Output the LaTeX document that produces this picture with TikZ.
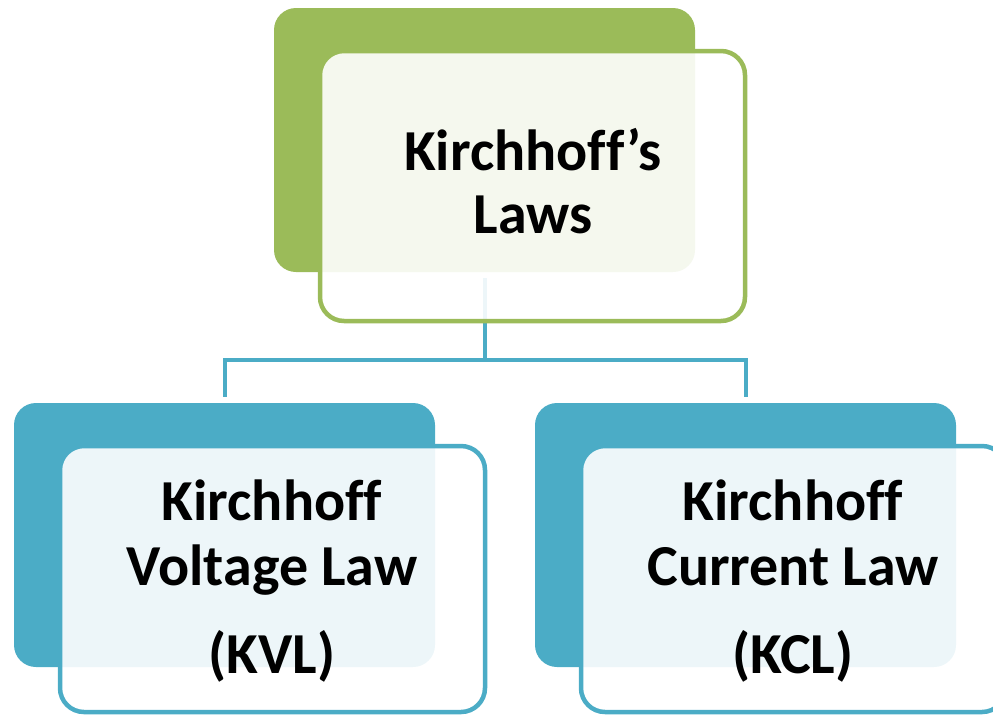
\documentclass[tikz,border=0pt]{standalone}
\usepackage{fontspec}
\setmainfont{Carlito}[Ligatures=NoCommon]
\definecolor{kgreen}{HTML}{9BBB59}
\definecolor{kblue}{HTML}{4BACC6}
\tikzset{
  backbox/.style={rectangle, rounded corners=22pt, inner sep=0pt, draw=none,
    minimum width=421pt, minimum height=264pt},
  frontbox/.style={rectangle, rounded corners=24pt, inner sep=0pt, line width=4.5pt,
    fill=white, fill opacity=0.9, minimum width=425pt, minimum height=266pt},
  conn/.style={draw=kblue, line width=4pt},
  lbl/.style={anchor=base, inner sep=0pt, font=\fontsize{58}{63}\selectfont\bfseries}
}
\begin{document}
\begin{tikzpicture}[x=1pt,y=-1pt]
\useasboundingbox (0,0) rectangle (993,716);
% top
\node[backbox, fill=kgreen] (tb) at (484.5,140) {};
\coordinate (j) at (tb.south |- 0,360);
\node[backbox, fill=kblue] (lb) at (224.5,535) {};
\node[backbox, fill=kblue] (rb) at (745.5,535) {};
\draw[conn, shorten <=6pt] (tb.south) -- (j);
\draw[conn, shorten >=6pt] (j) -| (lb.north);
\draw[conn, shorten >=6pt] (j) -| (rb.north);
\node[frontbox, draw=kgreen, minimum height=270pt] (tf) at (532.5,186) {};
\node[frontbox, draw=kblue] (lf) at (272.5,579) {};
\node[frontbox, draw=kblue] (rf) at (793.5,579) {};
% texts
\node[lbl] (t1) at (533,170) {Kirchhoff’s};
\node[lbl] (t2) at (533,233) {Laws};
\node[lbl] (l1) at (272,520) {Kirchhoff};
\node[lbl] (l2) at (272,585) {Voltage Law};
\node[lbl] (l3) at (272,673) {(KVL)};
\node[lbl] (r1) at (793,520) {Kirchhoff};
\node[lbl] (r2) at (793,585) {Current Law};
\node[lbl] (r3) at (793,673) {(KCL)};
\end{tikzpicture}
\end{document}
